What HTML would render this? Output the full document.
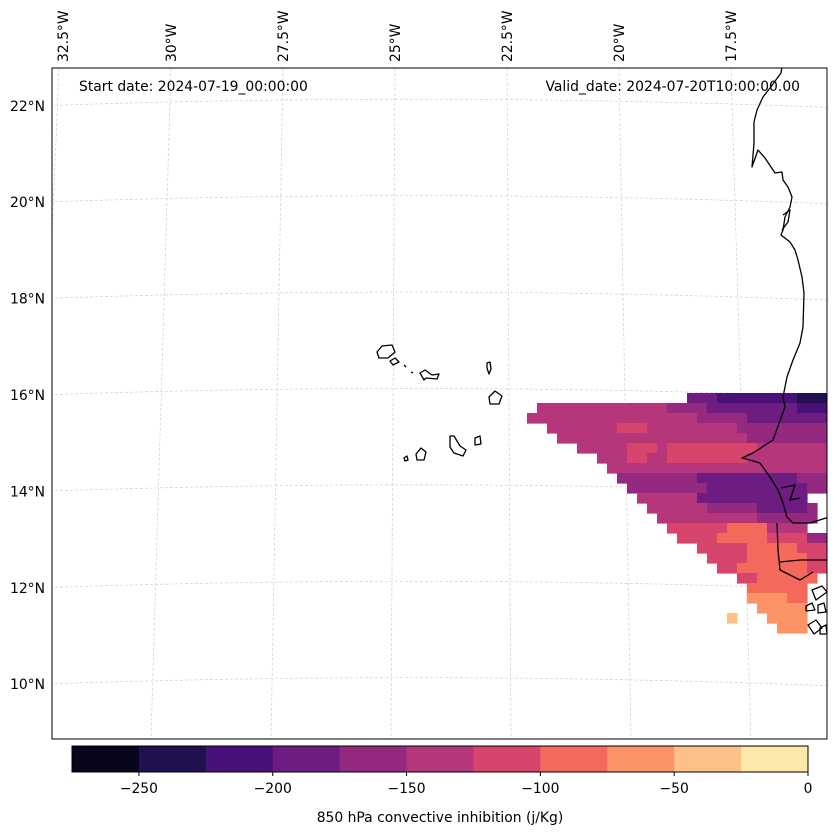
<!DOCTYPE html>
<html><head><meta charset="utf-8">
<style>
html,body{margin:0;padding:0;background:#fff;}
svg{display:block;font-family:"DejaVu Sans","Liberation Sans",sans-serif;}
</style></head>
<body>
<svg id="chart" width="837" height="836" viewBox="0 0 837 836" xmlns="http://www.w3.org/2000/svg">
<defs><clipPath id="mapclip"><rect x="52" y="68" width="775" height="671"/></clipPath></defs>
<g id="grid" clip-path="url(#mapclip)"></g>
<g id="field" clip-path="url(#mapclip)"></g>
<g id="coast" clip-path="url(#mapclip)" fill="none" stroke="#000" stroke-width="1.3" stroke-linejoin="round"></g>
<rect x="52" y="68" width="775" height="671" fill="none" stroke="#000" stroke-width="1"/>
<g id="labels"></g>
<text x="79" y="91" font-size="13.9">Start date: 2024-07-19_00:00:00</text>
<text x="800" y="91" font-size="13.9" text-anchor="end">Valid_date: 2024-07-20T10:00:00.00</text>
<g id="cbar"></g>
<text x="440" y="822" font-size="13.9" text-anchor="middle">850 hPa convective inhibition (j/Kg)</text>
</svg>
<script>
const levels = [-275,-250,-225,-200,-175,-150,-125,-100,-75,-50,-25,0];
const bandColors = ["#07061c","#21114e","#4a1079","#6d1d81","#932a7f","#b5367a","#d8456c","#f4695c","#fc9366","#fcc088","#fce8a8"];
const cbTicks = [-250,-200,-150,-100,-50,0];
const latTicks = [22,20,18,16,14,12,10];
const lonTicks = [32.5,30,27.5,25,22.5,20,17.5];
// band index runs per grid row ('.' = no data): [band, count]
const cellRuns = [
 [['.',16],['3',3],['2',8],['1',3]],
 [['.',1],['5',13],['4',4],['3',9],['2',3]],
 [['5',17],['4',5],['3',8]],
 [['.',2],['5',7],['6',3],['5',9],['4',9]],
 [['.',3],['5',19],['4',8]],
 [['.',5],['5',5],['6',3],['5',1],['6',9],['5',7]],
 [['.',7],['5',3],['6',2],['5',2],['6',8],['5',8]],
 [['.',8],['5',22]],
 [['.',9],['4',8],['3',10],['4',3]],
 [['.',10],['4',8],['3',10],['4',2]],
 [['.',11],['5',6],['3',11],['.',2]],
 [['.',12],['5',6],['4',5],['3',5],['4',1],['.',1]],
 [['.',13],['5',10],['4',6],['.',1]],
 [['.',14],['6',6],['7',4],['5',4],['.',2]],
 [['.',15],['6',4],['7',5],['6',4],['4',2]],
 [['.',17],['6',5],['7',5],['6',3]],
 [['.',18],['6',4],['7',6],['6',2]],
 [['.',19],['6',2],['7',7],['6',2]],
 [['.',21],['6',2],['7',6],['.',1]],
 [['.',22],['7',6],['.',2]],
 [['.',22],['8',4],['7',2],['.',2]],
 [['.',23],['8',5],['.',2]],
 [['.',20],['9',1],['.',3],['8',4],['.',2]],
 [['.',25],['8',3],['.',2]]
];
const NS="http://www.w3.org/2000/svg";
function mk(tag,attrs,parent){const e=document.createElementNS(NS,tag);for(const k in attrs)e.setAttribute(k,attrs[k]);parent.appendChild(e);return e;}
const gridX0=527, gridY0=393, cell=10;
function cellX(c){return gridX0+c*cell;}
function cellY(r){return gridY0+r*cell;}
function latY(lat){return 395+(16-lat)*48.2;}
function lonXTop(lon){return 395-(lon-25)*44.8;}
function lonXBot(lon){return 391-(lon-25)*48;}
function cbX(v){return 72+(v-levels[0])/(levels[levels.length-1]-levels[0])*736;}

const grid=document.getElementById('grid');
latTicks.forEach(lat=>{
  const y=latY(lat);
  const p=mk('path',{d:`M40 ${y} Q440 ${y-14} 840 ${y+2}`,fill:'none',stroke:'#d0d0d0','stroke-width':0.7,'stroke-dasharray':'3 2'},grid);
  
  
});
lonTicks.forEach(lon=>{
  const l=mk('line',{x1:lonXTop(lon),y1:68,x2:lonXBot(lon),y2:739,stroke:'#d0d0d0','stroke-width':0.7,'stroke-dasharray':'3 2'},grid);
  
  
});

const field=document.getElementById('field');
cellRuns.forEach((runs,r)=>{
  let c=0;
  runs.forEach(([ch,n])=>{
    if(ch!=='.'){
      const rc=mk('rect',{x:cellX(c),y:cellY(r),width:n*cell+0.6,height:cell+0.6,fill:bandColors[+ch]},field);
      
      
    }
    c+=n;
  });
});

const coast=document.getElementById('coast');
const coastLines=[
 "M783 60 L781 73 L770 88 L763 97 L757 110 L754 122 L754 143 L752 167 L758 150 L765 158 L775 173 L782 172 L783 180 L788 187 L792 197 L790 207 L785 217 L783 230 L781 235 L790 242 L795 250 L798 260 L802 277 L804 293 L803 327 L800 343 L793 360 L787 377 L783 397 L785 407 L773 440 L753 453 L742 458 L750 460 L760 463 L770 477 L778 490 L783 503 L787 517 L793 523 L810 523 L829 517",
 "M777 523 L778 550 L780 570 L800 580 L813 572",
 "M780 562 L800 560 L829 560",
 "M781 488 L795 485 L790 500 L800 498",
 "M783 215 L790 210 L788 222 L782 230",
 "M377 352 L382 346 L392 345 L395 352 L388 358 L379 358 Z",
 "M390 361 L395 358 L399 362 L393 365 Z",
 "M404 365 L406 367", "M411 372 L413 373",
 "M420 373 L425 370 L432 375 L439 374 L437 379 L426 378 L424 380 Z",
 "M487 363 L490 362 L491 369 L489 374 L487 368 Z",
 "M489 397 L495 391 L502 396 L499 404 L490 404 Z",
 "M450 436 L454 436 L460 446 L466 450 L463 456 L454 453 L450 447 Z",
 "M475 438 L480 436 L481 444 L475 445 Z",
 "M416 454 L421 448 L426 452 L424 460 L417 460 Z",
 "M404 458 L407 456 L408 460 L405 461 Z",
 "M812 590 L822 586 L827 592 L816 600 Z",
 "M806 606 L812 603 L815 610 L806 611 Z",
 "M818 605 L824 603 L826 612 L818 613 Z",
 "M808 625 L816 620 L822 628 L814 634 Z",
 "M820 628 L826 625 L827 634 L820 634 Z"
];
coastLines.forEach(d=>{
  const p=mk('path',{d:d},coast);
  
  
});

const labels=document.getElementById('labels');
latTicks.forEach(lat=>{
  const t=mk('text',{x:45,y:latY(lat)+5,'font-size':13.9,'text-anchor':'end'},labels);
  t.textContent=lat+'°N';
  
  
});
lonTicks.forEach(lon=>{
  const x=lonXTop(lon)+(lon===32.5?4:0)+5;
  const t=mk('text',{x:0,y:0,'font-size':13.9,transform:`translate(${x},62) rotate(-90)`},labels);
  t.textContent=lon+'°W';
  
  
});

const cbar=document.getElementById('cbar');
bandColors.forEach((col,i)=>{
  const x0=cbX(levels[i]),x1=cbX(levels[i+1]);
  const r=mk('rect',{x:x0,y:746,width:x1-x0+0.5,height:26,fill:col},cbar);
  
  
});
const frame=mk('rect',{x:72,y:746,width:736,height:26,fill:'none',stroke:'#000','stroke-width':1},cbar);


cbTicks.forEach(v=>{
  const x=cbX(v);
  const l=mk('line',{x1:x,y1:772,x2:x,y2:776,stroke:'#000'},cbar);
  
  
  const t=mk('text',{x:x,y:793,'font-size':13.9,'text-anchor':'middle'},cbar);
  t.textContent=v<0?'\u2212'+Math.abs(v):String(v);
  
  
});
</script>
</body></html>
